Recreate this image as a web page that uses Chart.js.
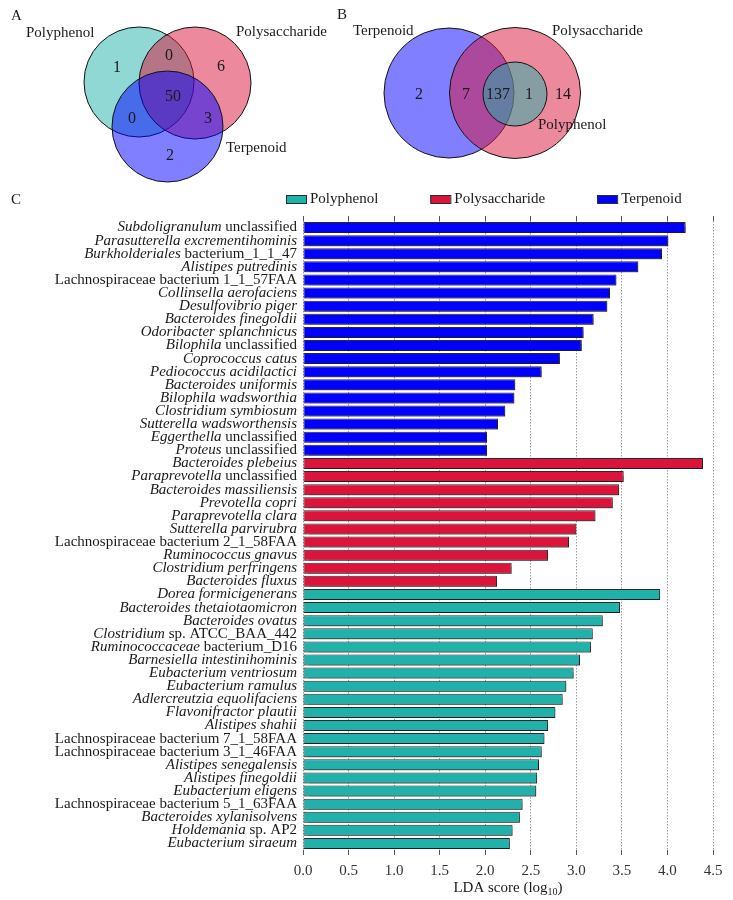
<!DOCTYPE html>
<html>
<head>
<meta charset="utf-8">
<script src="https://cdn.jsdelivr.net/npm/chart.js@4.4.1/dist/chart.umd.min.js"></script>
<style>
  html, body { margin: 0; padding: 0; background: #fff; }
  #wrap { position: relative; width: 733px; height: 900px; }
  .panel { position: absolute; }
</style>
</head>
<body>
<div id="wrap">
  <div class="panel" style="left:0;top:0;width:335px;height:185px"><canvas id="vennA"></canvas></div>
  <div class="panel" style="left:335px;top:0;width:398px;height:185px"><canvas id="vennB"></canvas></div>
  <div class="panel" style="left:0;top:185px;width:733px;height:715px"><canvas id="ldaChart"></canvas></div>
</div>
<script>
// ---- data ----
const groupNames = ["Polyphenol", "Polysaccharide", "Terpenoid"];

// Venn A: P only, P&S, S only, P&S&T, P&T, S&T, T only
const vennACounts = [1, 0, 6, 50, 0, 3, 2];
// Venn B: T only, T&S, T&S&P, S&P, S only
const vennBCounts = [2, 7, 137, 1, 14];

// *...* marks italic text
const terpenoidTaxa = [
  "*Subdoligranulum* unclassified", "*Parasutterella excrementihominis*",
  "*Burkholderiales* bacterium_1_1_47", "*Alistipes putredinis*",
  "Lachnospiraceae bacterium 1_1_57FAA", "*Collinsella aerofaciens*",
  "*Desulfovibrio piger*", "*Bacteroides finegoldii*", "*Odoribacter splanchnicus*",
  "*Bilophila* unclassified", "*Coprococcus catus*", "*Pediococcus acidilactici*",
  "*Bacteroides uniformis*", "*Bilophila wadsworthia*", "*Clostridium symbiosum*",
  "*Sutterella wadsworthensis*", "*Eggerthella* unclassified", "*Proteus* unclassified"
];
const terpenoidScores = [4.20, 4.01, 3.94, 3.68, 3.44, 3.37, 3.34, 3.19, 3.08,
  3.06, 2.82, 2.62, 2.33, 2.32, 2.22, 2.14, 2.02, 2.02];

const polysaccharideTaxa = [
  "*Bacteroides plebeius*", "*Paraprevotella* unclassified", "*Bacteroides massiliensis*",
  "*Prevotella copri*", "*Paraprevotella clara*", "*Sutterella parvirubra*",
  "Lachnospiraceae bacterium 2_1_58FAA", "*Ruminococcus gnavus*",
  "*Clostridium perfringens*", "*Bacteroides fluxus*"
];
const polysaccharideScores = [4.39, 3.52, 3.47, 3.40, 3.21, 3.00, 2.92, 2.69, 2.29, 2.13];

const polyphenolTaxa = [
  "*Dorea formicigenerans*", "*Bacteroides thetaiotaomicron*", "*Bacteroides ovatus*",
  "*Clostridium* sp. ATCC_BAA_442", "*Ruminococcaceae* bacterium_D16",
  "*Barnesiella intestinihominis*", "*Eubacterium ventriosum*", "*Eubacterium ramulus*",
  "*Adlercreutzia equolifaciens*", "*Flavonifractor plautii*", "*Alistipes shahii*",
  "Lachnospiraceae bacterium 7_1_58FAA", "Lachnospiraceae bacterium 3_1_46FAA",
  "*Alistipes senegalensis*", "*Alistipes finegoldii*", "*Eubacterium eligens*",
  "Lachnospiraceae bacterium 5_1_63FAA", "*Bacteroides xylanisolvens*",
  "*Holdemania* sp. AP2", "*Eubacterium siraeum*"
];
const polyphenolScores = [3.92, 3.48, 3.29, 3.18, 3.16, 3.04, 2.97, 2.89, 2.85, 2.77,
  2.69, 2.65, 2.62, 2.59, 2.57, 2.56, 2.41, 2.38, 2.30, 2.27];

const ldaMin = 0, ldaMax = 4.5, ldaStep = 0.5;

// ---- styles ----
const FONT = '"Liberation Serif", "Times New Roman", serif';
const groupColors = { Polyphenol: "#20b2aa", Polysaccharide: "#dc143c", Terpenoid: "#0000ff" };
const TEXT = "#1a1a1a";

function alpha(hex, a) {
  const n = parseInt(hex.slice(1), 16);
  return `rgba(${n >> 16},${(n >> 8) & 255},${n & 255},${a})`;
}

// ---- Venn diagrams (bubble circles on hidden linear scales, page coordinates) ----
function makeVenn(id, xMin, xMax, circles, counts, countPos, setLabels, letter) {
  const vennText = {
    id: "vennText" + id,
    afterDatasetsDraw(chart) {
      const { ctx, scales: { x, y } } = chart;
      ctx.save();
      ctx.fillStyle = TEXT;
      ctx.textBaseline = "middle";
      ctx.textAlign = "center";
      ctx.font = "16px " + FONT;
      counts.forEach((c, i) => {
        ctx.fillText(String(c), x.getPixelForValue(countPos[i][0]), y.getPixelForValue(countPos[i][1]));
      });
      ctx.textAlign = "left";
      ctx.font = "15px " + FONT;
      setLabels.forEach((l) => {
        ctx.fillText(l.text, x.getPixelForValue(l.x), y.getPixelForValue(l.y));
      });
      ctx.fillText(letter.text, x.getPixelForValue(letter.x), y.getPixelForValue(letter.y));
      ctx.restore();
    },
  };

  return new Chart(document.getElementById(id), {
    type: "bubble",
    data: {
      // first circle is painted first (highest order = bottom layer)
      datasets: circles.map((c, i) => ({
        label: c.name,
        data: [{ x: c.x, y: c.y, r: c.r }],
        backgroundColor: alpha(groupColors[c.name], 0.5),
        borderColor: "#111",
        borderWidth: 1,
        clip: false,
        order: circles.length - i,
      })),
    },
    options: {
      responsive: true,
      maintainAspectRatio: false,
      animation: false,
      events: [],
      layout: { padding: 0, autoPadding: false },
      plugins: { legend: { display: false }, tooltip: { enabled: false } },
      scales: {
        x: { type: "linear", min: xMin, max: xMax, display: false },
        y: { type: "linear", min: 0, max: 185, reverse: true, display: false },
      },
    },
    plugins: [vennText],
  });
}

makeVenn("vennA", 0, 335,
  [
    { name: "Polyphenol", x: 139, y: 82, r: 55 },
    { name: "Polysaccharide", x: 195, y: 83, r: 56 },
    { name: "Terpenoid", x: 167.5, y: 126.5, r: 55.5 },
  ],
  vennACounts,
  [[117, 68], [169, 56], [221, 67], [173, 97], [132, 119], [208, 119], [170, 156]],
  [
    { text: "Polyphenol", x: 26, y: 33 },
    { text: "Polysaccharide", x: 236, y: 32 },
    { text: "Terpenoid", x: 226, y: 148 },
  ],
  { text: "A", x: 11, y: 16 }
);

makeVenn("vennB", 335, 733,
  [
    { name: "Terpenoid", x: 449, y: 93, r: 65 },
    { name: "Polysaccharide", x: 515, y: 93, r: 65.5 },
    { name: "Polyphenol", x: 515, y: 94, r: 32 },
  ],
  vennBCounts,
  [[419, 95], [466, 95], [498, 95], [529, 95], [563, 95]],
  [
    { text: "Terpenoid", x: 353, y: 31 },
    { text: "Polysaccharide", x: 552, y: 31 },
    { text: "Polyphenol", x: 538, y: 125 },
  ],
  { text: "B", x: 337, y: 15 }
);

// ---- LDA bar chart ----
const allTaxa = terpenoidTaxa.concat(polysaccharideTaxa, polyphenolTaxa);
const groupData = {
  Terpenoid: terpenoidScores.concat(Array(polysaccharideScores.length + polyphenolScores.length).fill(null)),
  Polysaccharide: Array(terpenoidScores.length).fill(null).concat(polysaccharideScores, Array(polyphenolScores.length).fill(null)),
  Polyphenol: Array(terpenoidScores.length + polysaccharideScores.length).fill(null).concat(polyphenolScores),
};

// soft shadow under the bars
const barShadow = {
  id: "barShadow",
  beforeDatasetsDraw(chart) {
    const ctx = chart.ctx;
    ctx.save();
    ctx.shadowColor = "rgba(0,0,0,0.35)";
    ctx.shadowOffsetX = 1.5;
    ctx.shadowOffsetY = 1.5;
    ctx.shadowBlur = 1;
  },
  afterDatasetsDraw(chart) {
    chart.ctx.restore();
  },
};

// taxon labels with italic parts, legend, axis title, panel letter
const ldaText = {
  id: "ldaText",
  afterDraw(chart) {
    const { ctx, chartArea, scales: { y } } = chart;
    ctx.save();
    ctx.fillStyle = TEXT;
    ctx.textBaseline = "middle";
    ctx.textAlign = "left";

    chart.data.labels.forEach((lab, i) => {
      const parts = lab.split("*");
      const fonts = parts.map((p, k) => (k % 2 ? "italic " : "") + "15px " + FONT);
      let w = 0;
      parts.forEach((p, k) => { ctx.font = fonts[k]; w += ctx.measureText(p).width; });
      let x = chartArea.left - 6 - w;
      const yy = y.getPixelForValue(i);
      parts.forEach((p, k) => {
        ctx.font = fonts[k];
        ctx.fillText(p, x, yy);
        x += ctx.measureText(p).width;
      });
    });

    // legend
    let lx = 286;
    const ly = 14;
    ctx.font = "15px " + FONT;
    chart.data.datasets.forEach((ds) => {
      ctx.fillStyle = ds.backgroundColor;
      ctx.fillRect(lx, ly - 4, 20, 8);
      ctx.strokeStyle = "#2b2b2b";
      ctx.lineWidth = 1;
      ctx.strokeRect(lx + 0.5, ly - 3.5, 20, 8);
      ctx.fillStyle = TEXT;
      ctx.fillText(ds.label, lx + 24, ly);
      lx += 24 + ctx.measureText(ds.label).width + 52;
    });

    // axis title with subscript
    const main = "LDA score (log", sub = "10", close = ")";
    ctx.font = "15px " + FONT;
    const w1 = ctx.measureText(main).width, w3 = ctx.measureText(close).width;
    ctx.font = "10px " + FONT;
    const w2 = ctx.measureText(sub).width;
    let tx = (chartArea.left + chartArea.right) / 2 - (w1 + w2 + w3) / 2;
    const ty = 703;
    ctx.font = "15px " + FONT;
    ctx.fillText(main, tx, ty);
    ctx.font = "10px " + FONT;
    ctx.fillText(sub, tx + w1, ty + 4);
    ctx.font = "15px " + FONT;
    ctx.fillText(close, tx + w1 + w2, ty);

    ctx.fillText("C", 11, 15);
    ctx.restore();
  },
};

new Chart(document.getElementById("ldaChart"), {
  type: "bar",
  data: {
    labels: allTaxa,
    datasets: groupNames.map((g) => ({
      label: g,
      data: groupData[g],
      backgroundColor: groupColors[g],
      borderColor: "#2b2b2b",
      borderWidth: 1,
      borderSkipped: false,
      grouped: false,
      barPercentage: 0.84,
      categoryPercentage: 1,
    })),
  },
  options: {
    indexAxis: "y",
    responsive: true,
    maintainAspectRatio: false,
    animation: false,
    events: [],
    layout: { padding: { left: 303, right: 20, top: 31, bottom: 0 } },
    plugins: { legend: { display: false }, tooltip: { enabled: false } },
    scales: {
      x: {
        type: "linear",
        position: "bottom",
        min: ldaMin,
        max: ldaMax,
        z: 1,
        ticks: {
          stepSize: ldaStep,
          padding: 7,
          color: "#333",
          font: { family: FONT, size: 15 },
          callback: (v) => v.toFixed(1),
        },
        grid: { color: "rgba(40,40,40,0.45)", tickColor: "#555", tickLength: 5, tickBorderDash: [] },
        border: { display: false, dash: [1.5, 1.5] },
        afterFit(s) { s.height = 50; },
      },
      x2: {
        type: "linear",
        position: "top",
        min: ldaMin,
        max: ldaMax,
        ticks: { display: false, stepSize: ldaStep },
        grid: { drawOnChartArea: false, tickLength: 5, tickColor: "#555" },
        border: { display: false },
        afterFit(s) { s.height = 5; },
      },
      y: { display: false, offset: true },
    },
  },
  plugins: [barShadow, ldaText],
});
</script>
</body>
</html>
